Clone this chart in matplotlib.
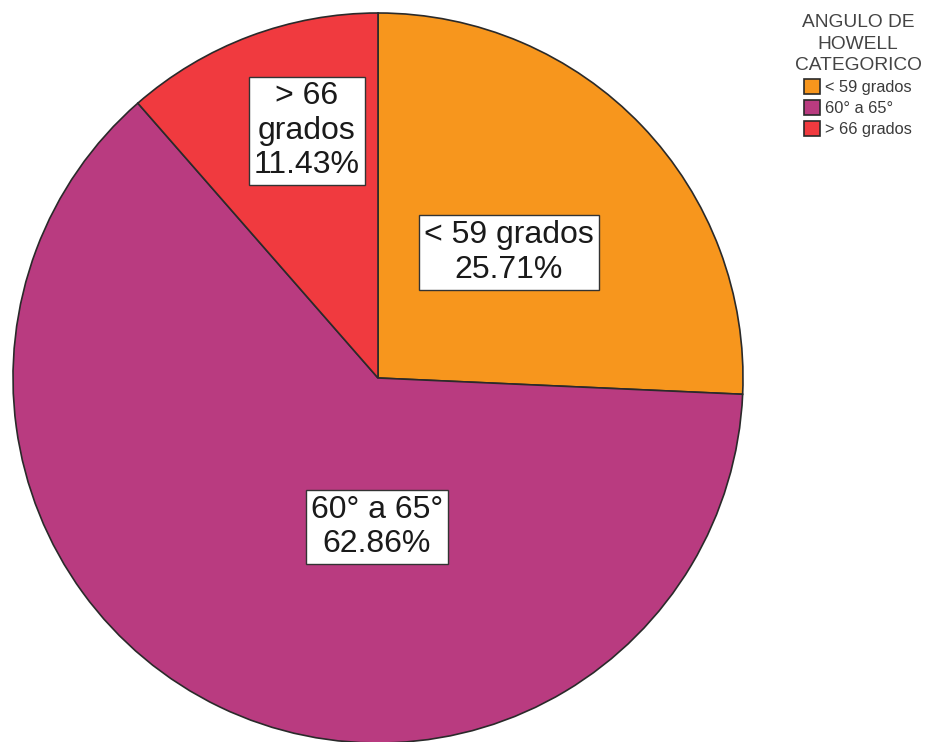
import matplotlib.pyplot as plt

# Angulo de Howell, categorias y porcentajes
categorias = ['< 59 grados', '60° a 65°', '> 66 grados']
leyenda = ['< 59 grados', '60° a 65°', '> 66 grados']
porcentajes = [25.71, 62.86, 11.43]
colores = ['#F7961D', '#B93B80', '#F03A3F']

# posiciones de las etiquetas dentro de cada sector
pos_etiquetas = [(0.359, 0.344), (-0.003, -0.408), (-0.195, 0.677)]
texto_etiquetas = ['< 59 grados\n{:.2f}%', '60° a 65°\n{:.2f}%', '> 66\ngrados\n{:.2f}%']

plt.rcParams['font.family'] = ['Liberation Sans', 'DejaVu Sans']

fig = plt.figure(figsize=(9.29, 7.42), dpi=100)
ax = fig.add_axes([13 / 929, -1 / 742, 730 / 929, 730 / 742])

wedges, _ = ax.pie(porcentajes, colors=colores, startangle=90, counterclock=False,
                   wedgeprops={'edgecolor': '#2a2a2a', 'linewidth': 1.2})
ax.set_xlim(-1, 1)
ax.set_ylim(-1, 1)
ax.set_aspect('equal')

for (x, y), txt, p in zip(pos_etiquetas, texto_etiquetas, porcentajes):
    ax.text(x, y, txt.format(p), ha='center', va='center', fontsize=23,
            color='#1a1a1a', linespacing=1.2,
            bbox=dict(boxstyle='square,pad=0.15', facecolor='white',
                      edgecolor='#333333', linewidth=1.0))

leg = fig.legend(wedges, leyenda, title='ANGULO DE\nHOWELL\nCATEGORICO',
                 loc='upper center', bbox_to_anchor=(858 / 929, 1 - 1 / 742),
                 frameon=False, fontsize=11.8, title_fontsize=13.8,
                 handlelength=1.0, handleheight=1.0, handletextpad=0.3,
                 labelspacing=0.3, borderpad=0.3)
for t in leg.get_texts():
    t.set_color('#3a3a3a')
leg.get_title().set_color('#444444')
leg.get_title().set_multialignment('center')
leg.get_title().set_linespacing(1.35)

fig.savefig('out.png', dpi=100)
